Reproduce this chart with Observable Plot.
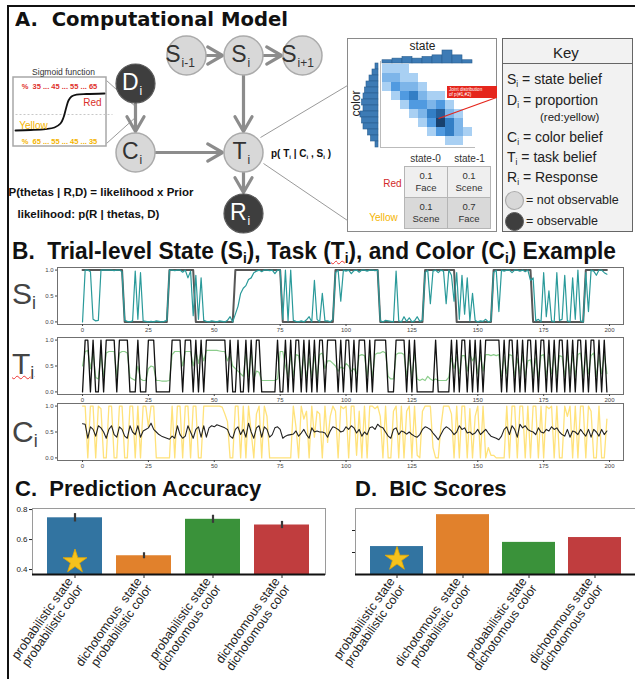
<!DOCTYPE html>
<html><head><meta charset="utf-8">
<script src="https://cdn.jsdelivr.net/npm/d3@7"></script>
<script src="https://cdn.jsdelivr.net/npm/@observablehq/plot@0.6"></script>
<style>
body{margin:0;background:#fff;}
#fig{position:relative;width:635px;height:679px;overflow:hidden;font-family:"Liberation Sans",Arial,sans-serif;color:#222;}
.t{position:absolute;white-space:nowrap;line-height:1;}
.t sub{font-size:0.6em;vertical-align:-0.3em;line-height:0;}
.box{position:absolute;box-sizing:border-box;}
table.pt{border-collapse:collapse;font-size:9.5px;color:#333;}
table.pt td{width:42px;height:30px;text-align:center;border:1px solid #b5b5b5;line-height:12px;padding:0;}
</style></head>
<body><div id="fig"></div>
<script>
// ---------------- DATA ----------------
const xTicks = [0, 25, 50, 75, 100, 125, 150, 175, 200];
// Panel B, S: true state (black) and model state belief (teal)
const sState = [
1,1,1,1,1,1,1,1,1,1, 1,1,1,1,1,1,0,0,0,0, 0,0,0,0,0,0,0,0,0,0, 0,0,0,1,1,1,1,1,1,1,
1,1,1,0,0,0,0,0,0,0, 0,0,0,0,0,0,0,0,1,1, 1,1,1,1,1,1,1,1,1,1, 1,1,1,1,1,1,0,0,0,0,
0,0,0,0,0,0,0,0,0,0, 0,0,0,0,0,0,1,1,1,1, 1,1,1,1,1,1,1,1,1,1, 1,1,1,0,0,0,0,0,0,0,
0,0,0,0,0,0,0,0,0,0, 1,1,1,1,1,1,1,1,1,1, 1,1,0,0,0,0,0,0,0,0, 0,0,0,0,0,0,1,1,1,1,
1,1,1,1,1,1,1,1,1,1, 1,0,0,0,0,0,0,0,0,0, 0,0,0,0,0,0,0,0,0,0, 0,1,1,1,1,1,1,1,1,1];
const sBelief = [
0.00,1.00,1.00,0.97,0.05,0.02,0.03,1.00,1.00,1.00, 1.00,1.00,0.99,1.00,1.00,0.97,0.03,0.01,0.00,0.02,
0.98,0.05,0.95,0.02,0.01,0.00,0.01,0.00,0.02,0.01, 0.00,0.01,0.03,1.00,1.00,0.99,1.00,1.00,0.96,1.00,
0.85,0.98,0.12,0.90,0.05,0.85,0.03,0.01,0.00,0.02, 0.01,0.00,0.02,0.01,0.00,0.03,0.10,0.00,0.15,0.30,
0.55,0.65,0.70,0.82,0.85,0.95,0.98,1.00,0.97,1.00, 1.00,0.99,1.00,0.93,1.00,1.00,0.05,1.00,0.02,1.00,
0.03,0.01,0.00,0.02,0.00,0.04,0.10,0.00,0.80,0.05, 0.00,0.55,0.02,0.02,0.00,0.05,0.95,1.00,0.40,1.00,
0.98,1.00,0.93,0.99,1.00,0.96,1.00,1.00,0.98,1.00, 1.00,0.99,1.00,0.02,0.00,0.03,0.02,0.01,0.00,0.98,
0.02,0.00,0.10,0.01,0.08,0.00,0.02,0.10,0.01,0.03, 0.95,1.00,0.35,0.98,1.00,0.95,1.00,0.98,0.35,1.00,
0.90,0.40,0.95,0.05,0.90,0.15,0.85,0.02,0.55,0.03, 0.00,0.02,0.01,0.05,0.00,0.02,0.95,1.00,0.20,1.00,
0.98,1.00,1.00,0.95,1.00,1.00,0.98,1.00,0.97,1.00, 0.80,0.85,0.02,0.05,0.00,0.95,0.10,0.60,0.02,0.00,
0.95,0.03,0.05,0.90,0.02,0.00,0.85,0.05,1.00,0.02, 0.00,0.95,0.20,1.00,0.98,0.90,1.00,1.00,0.95,0.92];
// Panel B, T: task (black) and task belief (green)
const tTask = [
0,1,1,0,1,0,0,1,0,1, 1,1,1,0,1,1,1,1,0,0, 0,1,0,0,0,1,1,1,0,0, 0,0,0,0,1,1,1,1,0,1,
1,1,0,1,0,1,0,1,1,1, 1,1,1,1,1,0,1,0,0,1, 0,0,1,0,1,0,1,1,0,0, 0,0,0,0,1,0,0,1,0,1,
0,1,1,0,1,0,1,0,1,0, 1,1,0,1,1,1,1,0,1,0, 1,1,0,1,0,1,1,1,0,1, 0,1,1,1,1,1,0,0,0,1,
1,1,1,0,1,0,1,0,0,0, 0,0,0,0,1,0,0,0,0,0, 1,0,1,0,1,1,0,1,0,1, 0,1,0,1,1,1,1,1,1,0,
1,0,1,1,0,1,0,1,0,1, 1,0,1,0,1,1,0,1,0,1, 0,1,1,0,1,0,1,0,1,1, 0,1,0,1,1,0,1,0,1,0];
const tBelief = [
0.50,0.78,0.80,0.45,0.75,0.28,0.25,0.72,0.30,0.75, 0.78,0.78,0.78,0.30,0.75,0.78,0.78,0.75,0.28,0.25,
0.22,0.50,0.25,0.22,0.22,0.45,0.50,0.48,0.22,0.22, 0.21,0.21,0.21,0.22,0.72,0.78,0.78,0.78,0.50,0.78,
0.78,0.78,0.50,0.78,0.55,0.78,0.60,0.80,0.80,0.80, 0.80,0.80,0.79,0.78,0.78,0.60,0.72,0.50,0.45,0.40,
0.35,0.30,0.75,0.30,0.78,0.25,0.40,0.38,0.22,0.22, 0.22,0.22,0.22,0.22,0.25,0.78,0.78,0.50,0.30,0.72,
0.30,0.72,0.70,0.30,0.72,0.28,0.65,0.30,0.70,0.28, 0.72,0.75,0.45,0.60,0.60,0.55,0.50,0.40,0.48,0.45,
0.55,0.50,0.40,0.45,0.35,0.70,0.72,0.70,0.30,0.72, 0.28,0.72,0.75,0.75,0.78,0.75,0.30,0.25,0.25,0.72,
0.75,0.75,0.72,0.30,0.70,0.28,0.75,0.25,0.22,0.25, 0.22,0.30,0.25,0.22,0.25,0.22,0.22,0.22,0.22,0.28,
0.65,0.45,0.68,0.35,0.70,0.70,0.40,0.72,0.60,0.70, 0.35,0.70,0.40,0.72,0.72,0.70,0.72,0.70,0.72,0.30,
0.68,0.35,0.72,0.70,0.30,0.65,0.35,0.70,0.30,0.60, 0.62,0.30,0.65,0.28,0.70,0.72,0.30,0.68,0.35,0.72,
0.30,0.70,0.68,0.30,0.72,0.35,0.70,0.30,0.72,0.75, 0.30,0.72,0.35,0.70,0.75,0.30,0.68,0.35,0.72,0.35];
// Panel B, C: color belief (black) and color proportion (yellow)
const cBelief = [
0.66,0.65,0.38,0.60,0.55,0.42,0.62,0.58,0.50,0.38, 0.55,0.62,0.45,0.40,0.60,0.55,0.42,0.38,0.62,0.50,
0.45,0.62,0.40,0.52,0.55,0.58,0.67,0.55,0.50,0.45, 0.42,0.40,0.38,0.36,0.42,0.38,0.62,0.45,0.38,0.42,
0.62,0.50,0.38,0.55,0.60,0.40,0.62,0.40,0.58,0.62, 0.60,0.64,0.62,0.60,0.58,0.55,0.42,0.38,0.55,0.60,
0.45,0.55,0.40,0.67,0.50,0.38,0.58,0.62,0.40,0.60, 0.55,0.40,0.45,0.58,0.60,0.55,0.38,0.42,0.44,0.45,
0.46,0.52,0.42,0.48,0.55,0.45,0.38,0.58,0.50,0.52, 0.50,0.50,0.48,0.40,0.52,0.60,0.58,0.55,0.50,0.52,
0.60,0.55,0.62,0.58,0.48,0.55,0.42,0.50,0.45,0.58, 0.60,0.55,0.65,0.60,0.58,0.50,0.42,0.38,0.55,0.58,
0.45,0.52,0.50,0.46,0.50,0.45,0.42,0.40,0.45,0.55, 0.60,0.58,0.55,0.48,0.42,0.35,0.45,0.55,0.60,0.57,
0.52,0.45,0.50,0.62,0.55,0.58,0.48,0.50,0.45,0.48, 0.55,0.45,0.50,0.55,0.48,0.42,0.40,0.38,0.35,0.42,
0.55,0.60,0.45,0.62,0.55,0.40,0.65,0.58,0.62,0.55, 0.52,0.50,0.45,0.58,0.50,0.48,0.55,0.52,0.60,0.55,
0.58,0.50,0.45,0.42,0.55,0.40,0.52,0.50,0.45,0.55, 0.48,0.42,0.55,0.40,0.55,0.50,0.42,0.55,0.45,0.52];
const cColor = [
1.00,1.00,0.00,1.00,1.00,0.00,1.00,0.95,0.00,0.00, 1.00,1.00,0.00,0.00,1.00,1.00,0.00,0.00,1.00,1.00,
0.00,1.00,0.00,1.00,1.00,0.60,1.00,1.00,0.00,0.00, 0.00,0.00,0.00,0.00,1.00,0.00,1.00,1.00,0.00,1.00,
1.00,0.00,1.00,1.00,0.00,0.00,1.00,1.00,1.00,1.00, 1.00,1.00,1.00,0.98,0.85,0.70,0.00,0.00,1.00,1.00,
0.00,1.00,0.00,1.00,0.50,0.00,0.85,1.00,0.00,1.00, 0.80,0.00,0.00,0.00,0.00,0.00,0.00,0.00,0.00,0.00,
1.00,0.60,0.00,1.00,0.75,0.90,0.00,1.00,0.40,0.90, 0.85,0.00,1.00,0.30,0.80,1.00,0.90,0.00,1.00,0.95,
1.00,0.00,1.00,1.00,0.05,0.90,0.00,1.00,0.00,1.00, 1.00,0.95,1.00,0.80,0.00,1.00,0.00,0.00,0.90,1.00,
0.00,1.00,0.00,0.90,1.00,0.00,1.00,0.05,0.00,0.90, 1.00,1.00,1.00,0.20,0.00,0.00,0.60,1.00,1.00,1.00,
0.85,0.00,1.00,0.00,1.00,1.00,0.00,0.95,0.00,0.80, 1.00,0.00,1.00,0.00,0.20,0.05,0.05,0.00,0.00,0.00,
0.00,1.00,0.00,1.00,1.00,0.00,1.00,1.00,0.00,1.00, 0.00,1.00,1.00,0.00,1.00,0.00,1.00,0.95,1.00,0.00,
1.00,0.00,0.00,1.00,0.80,1.00,0.00,1.00,0.00,1.00, 1.00,0.00,1.00,0.90,0.00,0.00,1.00,0.00,0.00,0.75];
// Panels C and D
const models = ["probabilistic state\nprobabilistic color", "dichotomous  state\nprobabilistic color",
                "probabilistic state\ndichotomous color", "dichotomous state\ndichotomous color"];
const accuracy = [0.745, 0.492, 0.735, 0.697];
const accuracyErr = [0.028, 0.020, 0.027, 0.024];
const bicScores = [1.27, 2.72, 1.46, 1.68];
const barColors = ["#3274a1", "#e1812c", "#3a923a", "#c03d3e"];
const bestModel = models[0];
// Panel A: joint distribution heat map (rows = color, cols = state) and marginals
const joint = [
 [1,1,1,0,0,0,0,0,0,0],
 [2,2,1,1,0,0,0,0,0,0],
 [1,3,2,2,1,0,0,0,0,0],
 [0,1,3,4,2,1,1,0,0,0],
 [0,0,1,3,3,2,3,1,0,0],
 [0,0,0,1,2,4,5,2,1,0],
 [0,0,0,0,1,3,6,4,2,0],
 [0,0,0,0,0,1,3,4,2,1],
 [0,0,0,0,0,0,0,1,1,0]];
const stateHist = [2,3,4,3,4,5,8,5,2];
const colorHist = [2,4,6,8,9,10,11,10,12,11,10,7,5,2];
// Panel A: graphical model (diagram units)
const nodes = [
 {letter:"S", sub:"i-1", x:186, y:55, dark:false, ldx:-6},
 {letter:"S", sub:"i",   x:243, y:55, dark:false, ldx:3},
 {letter:"S", sub:"i+1", x:302, y:55, dark:false, ldx:-6},
 {letter:"D", sub:"i",   x:135, y:83, dark:true,  ldx:3},
 {letter:"C", sub:"i",   x:135, y:152, dark:false, ldx:3},
 {letter:"T", sub:"i",   x:243, y:152, dark:false, ldx:3},
 {letter:"R", sub:"i",   x:243, y:213, dark:true,  ldx:3}];
const edges = [[0,1],[1,2],[1,5],[3,4],[4,5],[5,6]];
const sigmoidPts = [[15,130],[30,129.5],[45,128.6],[54,127],[60,123],[63,117],[65.5,108],[68,100],[71,96],[76,94.2],[86,93.5],[104,93]];

// ---------------- HELPERS ----------------
const fig = document.getElementById("fig");
const FONT = "Liberation Sans, Arial, sans-serif";
function put(node, left, top) { node.style.position = "absolute"; node.style.left = left + "px"; node.style.top = top + "px"; fig.appendChild(node); return node; }
function txt(str, x, yc, size, css) {
  const d = document.createElement("div"); d.className = "t"; d.innerHTML = str;
  d.style.cssText = `font-size:${size}px;` + (css || "");
  return put(d, x, yc - size / 2);
}
function fitWidth(el, w) {
  const cur = el.getBoundingClientRect().width;
  if (cur > 0) { el.style.transformOrigin = "0 50%"; el.style.transform = `scaleX(${w / cur})`; }
}
function box(x, y, w, h, css) { const d = document.createElement("div"); d.className = "box"; d.style.cssText = `width:${w}px;height:${h}px;` + css; return put(d, x, y); }
const transparent = {background: "transparent", overflow: "visible", fontFamily: FONT};

// Outer border
box(7, 5, 700, 700, "border-left:2px solid #111;border-top:2px solid #111;");

// ---------------- PANEL A ----------------
fitWidth(txt("A.&nbsp; Computational Model", 15, 19, 20, "font-family:'DejaVu Sans',sans-serif;font-weight:bold;color:#111;"), 273);
// inset and key boxes
box(347, 38, 150, 194, "border:1.5px solid #8a8a8a;background:#fff;");
box(502, 38, 131, 194, "border:1.5px solid #666;background:#f2f2f2;");
box(502, 38, 131, 26, "border-bottom:1.5px solid #666;");
txt("Key", 553, 52, 15, "color:#222;");
txt("S<sub>i</sub> = state belief", 507, 79, 14);
txt("D<sub>i</sub> = proportion", 507, 100, 14);
txt("(red:yellow)", 540, 118, 11.5);
txt("C<sub>i</sub> = color belief", 507, 137, 14);
txt("T<sub>i</sub> = task belief", 507, 157, 14);
txt("R<sub>i</sub> = Response", 507, 177, 14);
txt("= not observable", 526, 200, 12.5);
txt("= observable", 526, 221, 12.5);

// table of probabilities
const tb = document.createElement("div");
tb.innerHTML = `<table class="pt"><tr><td style="background:#efefef">0.1<br>Face</td><td style="background:#efefef">0.1<br>Scene</td></tr>
<tr><td style="background:#d9d9d9">0.1<br>Scene</td><td style="background:#d9d9d9">0.7<br>Face</td></tr></table>`;
put(tb, 404, 166);

// heat map (joint distribution)
const cells = joint.flatMap((row, r) => row.map((v, c) => ({r, c, v}))).filter(d => d.v > 0);
put(Plot.plot({
  width: 96, height: 88, margin: 0, marginLeft: 2, marginBottom: 2,
  x: {domain: d3.range(10), axis: null, padding: 0}, y: {domain: d3.range(9), axis: null, padding: 0},
  color: {type: "linear", domain: [1, 3.5, 6], range: ["#a9d0f3", "#3a8ddb", "#18416e"]},
  style: transparent,
  marks: [
    Plot.cell(cells, {x: "c", y: "r", fill: "v"}),
    Plot.frame({anchor: "left", stroke: "#bbb"}),
    Plot.frame({anchor: "bottom", stroke: "#bbb"})
  ]
}), 378, 61);
// marginal histograms
put(Plot.plot({
  width: 92, height: 13, margin: 0,
  x: {domain: d3.range(stateHist.length), axis: null, padding: 0}, y: {domain: [0, 8], axis: null},
  style: transparent,
  marks: [Plot.barY(stateHist, {x: (d, i) => i, y: d => d, fill: "#3d7bb5", stroke: "#2b5f8f", strokeWidth: 0.6})]
}), 381, 50);
put(Plot.plot({
  width: 18, height: 86, margin: 0,
  y: {domain: d3.range(colorHist.length), axis: null, padding: 0}, x: {domain: [0, 12], reverse: true, axis: null},
  style: transparent,
  marks: [Plot.barX(colorHist, {y: (d, i) => i, x: d => d, fill: "#3d7bb5", stroke: "#2b5f8f", strokeWidth: 0.6})]
}), 360, 62);
// red annotation
txt("Joint distribution<br>of p(#1,#2)", 447, 88, 4.6, "background:#e5261c;color:#fff;width:46px;height:10px;padding:1px 2px;line-height:5px;");

// diagram
const pos = i => nodes[i];
const arrows = edges.map(([a, b]) => ({x1: pos(a).x, y1: pos(a).y, x2: pos(b).x, y2: pos(b).y}));
const connectors = [
  {x1: 106, y1: 80, x2: 136, y2: 107}, {x1: 106, y1: 143, x2: 136, y2: 116},
  {x1: 260, y1: 137, x2: 347, y2: 85}, {x1: 263, y1: 163, x2: 347, y2: 220}];
const keySwatches = [{x: 514, y: 200, dark: false}, {x: 514, y: 221, dark: true}];
const diagram = Plot.plot({
  width: 635, height: 240, margin: 0,
  x: {domain: [0, 635], range: [0, 635], axis: null}, y: {domain: [0, 240], range: [0, 240], axis: null},
  style: transparent,
  marks: [
    Plot.link(connectors, {x1: "x1", y1: "y1", x2: "x2", y2: "y2", stroke: "#9a9a9a", strokeWidth: 1}),
    Plot.rect([{x1: 13, x2: 106, y1: 77, y2: 146}], {x1: "x1", x2: "x2", y1: "y1", y2: "y2", fill: "#fff", stroke: "#a8a8a8", strokeWidth: 1.5}),
    Plot.link([{x1: 15, x2: 112, y: 114}], {x1: "x1", x2: "x2", y1: "y", y2: "y", stroke: "#c8c8c8", strokeDasharray: "2,2"}),
    Plot.line(sigmoidPts, {x: d => d[0], y: d => d[1], curve: "catmull-rom", stroke: "#111", strokeWidth: 1.8}),
    Plot.text(["Sigmoid function"], {x: 63, y: 72, fontSize: 8.5, fill: "#333"}),
    Plot.text(["%  35 ... 45 ... 55 ... 65"], {x: 59, y: 86, fontSize: 7.5, fontWeight: "bold", fill: "#e0312b"}),
    Plot.text(["%  65 ... 55 ... 45 ... 35"], {x: 59, y: 141, fontSize: 7.5, fontWeight: "bold", fill: "#f4b400"}),
    Plot.text(["Red"], {x: 92, y: 102, fontSize: 10, fill: "#d9302a"}),
    Plot.text(["Yellow"], {x: 33, y: 125, fontSize: 10, fill: "#f4b400"}),
    Plot.arrow(arrows, {x1: "x1", y1: "y1", x2: "x2", y2: "y2", insetStart: 20, insetEnd: 21, stroke: "#8c8c8c", strokeWidth: 3.2, headLength: 8}),
    Plot.dot(nodes.filter(d => !d.dark), {x: "x", y: "y", r: 19.5, fill: "#d8d8d8", stroke: "#ababab", strokeWidth: 1.5}),
    Plot.dot(nodes.filter(d => d.dark), {x: "x", y: "y", r: 19.5, fill: "#3e3e3e", stroke: "#5a5a5a", strokeWidth: 1.2}),
    Plot.text(nodes.filter(d => !d.dark), {x: d => d.x + d.ldx, y: "y", text: "letter", textAnchor: "end", fontSize: 23, fill: "#333", dy: -1}),
    Plot.text(nodes.filter(d => d.dark), {x: d => d.x + d.ldx, y: "y", text: "letter", textAnchor: "end", fontSize: 23, fill: "#fff", dy: -1}),
    Plot.text(nodes.filter(d => !d.dark), {x: d => d.x + d.ldx + 1, y: "y", text: "sub", textAnchor: "start", fontSize: 12, fill: "#333", dy: 8}),
    Plot.text(nodes.filter(d => d.dark), {x: d => d.x + d.ldx + 1, y: "y", text: "sub", textAnchor: "start", fontSize: 12, fill: "#fff", dy: 8}),
    Plot.text(["P(thetas | R,D) = likelihood x Prior"], {x: 8, y: 192, textAnchor: "start", fontSize: 11.5, fontWeight: "bold", fill: "#111"}),
    Plot.text(["likelihood: p(R | thetas, D)"], {x: 17, y: 214, textAnchor: "start", fontSize: 11.5, fontWeight: "bold", fill: "#111"}),
    Plot.text(["state"], {x: 422, y: 46, fontSize: 12, fill: "#222"}),
    Plot.text(["color"], {x: 356, y: 103, fontSize: 12, fill: "#222", rotate: -90}),
    Plot.text(["state-0", "state-1"], {x: (d, i) => 425 + i * 44, y: 158, fontSize: 10, fill: "#333"}),
    Plot.text(["Red"], {x: 392, y: 183, fontSize: 10, fill: "#d22a2a"}),
    Plot.text(["Yellow"], {x: 383, y: 217, fontSize: 10, fill: "#f4b400"}),
    Plot.link([{x1: 438, y1: 118, x2: 496, y2: 97}], {x1: "x1", y1: "y1", x2: "x2", y2: "y2", stroke: "#e5261c", strokeWidth: 1.3}),
    Plot.dot(keySwatches.filter(d => !d.dark), {x: "x", y: "y", r: 9, fill: "#d8d8d8", stroke: "#ababab", strokeWidth: 1.2}),
    Plot.dot(keySwatches.filter(d => d.dark), {x: "x", y: "y", r: 9, fill: "#3e3e3e", stroke: "#5a5a5a", strokeWidth: 1})
  ]
});
put(diagram, 0, 0);
txt("p( T<sub>i</sub> | C<sub>i</sub> , S<sub>i</sub> )", 271, 154, 10, "font-weight:bold;color:#111;");

// ---------------- PANEL B ----------------
fitWidth(txt("B.&nbsp; Trial-level State (S<sub>i</sub>), Task (<span style='text-decoration:underline wavy #e33;text-decoration-thickness:1px'>T<sub>i</sub></span>), and Color (C<sub>i</sub>) Example",
    12, 251, 24, "font-family:'Liberation Sans',Arial,sans-serif;font-weight:bold;color:#111;"), 604);
function series(top, layers) {
  const p = Plot.plot({
    width: 635, height: 73, marginLeft: 57, marginRight: 12, marginTop: 5, marginBottom: 11,
    x: {domain: [-9.5, 205.3], label: null},
    y: {domain: [-0.05, 1.05], label: null},
    style: {...transparent, fontSize: "6px", color: "#444"},
    marks: [
      ...layers.map(l => Plot.line(l.data, {x: (d, i) => i, y: d => d, stroke: l.color, strokeWidth: l.w, strokeOpacity: l.o})),
      Plot.frame({stroke: "#707070"}),
      Plot.axisX({ticks: xTicks, tickSize: 2, tickPadding: 1}),
      Plot.axisY({ticks: [0, 0.5, 1], tickFormat: d3.format(".1f"), tickSize: 2, tickPadding: 2})
    ]
  });
  put(p, 0, top);
}
series(262, [{data: sState, color: "#3a3a3a", w: 2, o: 0.85}, {data: sBelief, color: "#2a9a9a", w: 1.2, o: 1}]);
series(332, [{data: tBelief, color: "#78c478", w: 1.2, o: 0.85}, {data: tTask, color: "#111", w: 1.3, o: 1}]);
series(398, [{data: cColor, color: "#ffe27a", w: 1.3, o: 1}, {data: cBelief, color: "#222", w: 1.1, o: 1}]);
const bigLbl = "color:#444;font-family:'Liberation Sans',Arial,sans-serif;";
txt("S<sub>i</sub>", 12, 294, 30, bigLbl);
txt("<span style='text-decoration:underline wavy #e33;text-decoration-thickness:1px'>T<sub>i</sub></span>", 12, 364, 30, bigLbl);
txt("C<sub>i</sub>", 12, 432, 30, bigLbl);

// ---------------- PANELS C & D ----------------
txt("C.&nbsp; Prediction Accuracy", 15, 489, 22, "font-weight:bold;color:#111;");
txt("D.&nbsp; BIC Scores", 355, 489, 22, "font-weight:bold;color:#111;");
function bars(values, opts) {
  const rows = models.map((m, i) => ({model: m, value: values[i], err: opts.err ? opts.err[i] : 0}));
  const y0 = opts.domain[0];
  return Plot.plot({
    width: opts.width, height: 179, marginLeft: opts.ml, marginRight: opts.mr, marginTop: 8, marginBottom: 105,
    x: {domain: models, padding: 0.2, label: null},
    y: {domain: opts.domain, label: null},
    color: {domain: models, range: barColors},
    style: {...transparent, color: "#222"},
    marks: [
      Plot.barY(rows, {x: "model", y: "value", fill: "model", clip: true}),
      opts.err ? Plot.ruleX(rows, {x: "model", y1: d => d.value - d.err, y2: d => d.value + d.err, stroke: "#3a3a3a", strokeWidth: 2.2}) : null,
      Plot.dot(rows.filter(d => d.model === bestModel), {x: "model", y: opts.starY, symbol: "star", r: 7.5, fill: "#f6c21c", stroke: "#e9a900", strokeWidth: 0.8}),
      Plot.frame({stroke: "#9a9a9a"}),
      Plot.ruleY([y0], {stroke: "#111", strokeWidth: 2}),
      Plot.axisY({ticks: opts.ticks, tickFormat: opts.fmt, tickSize: 3, tickPadding: 2, fontSize: 8}),
      Plot.axisX({tickRotate: -55, tickSize: 4, tickPadding: 4, fontSize: 12.5})
    ]
  });
}
put(bars(accuracy, {width: 330, ml: 32, mr: 5, domain: [0.367, 0.807], err: accuracyErr, starY: () => 0.453,
  ticks: [0.4, 0.6, 0.8], fmt: d3.format(".1f")}), 0, 500);
put(bars(bicScores, {width: 305, ml: 25, mr: 0, domain: [0, 3.0], starY: () => 0.7,
  ticks: [1, 2], fmt: () => ""}), 330, 500);
</script></body></html>
